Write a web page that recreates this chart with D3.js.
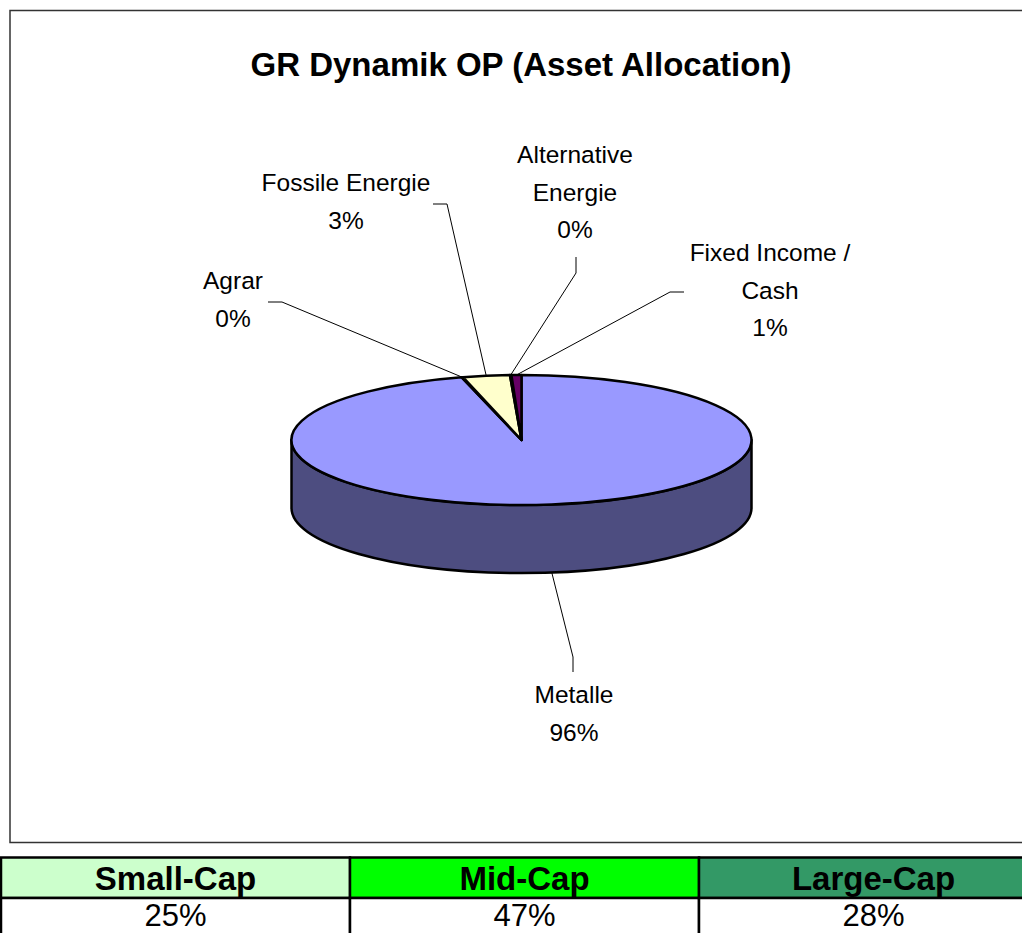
<!DOCTYPE html>
<html>
<head>
<meta charset="utf-8">
<script src="https://cdn.jsdelivr.net/npm/d3@7"></script>
<style>
  body { margin: 0; background: #fff; }
  svg { display: block; font-family: "Liberation Sans", Arial, sans-serif; }
</style>
</head>
<body>
<svg id="svg1" width="1022" height="933"></svg>
<script>
// slice data, clockwise from 12 o'clock
var categories = ["Metalle", "Agrar", "Fossile Energie", "Alternative Energie", "Fixed Income / Cash"];
var shares = [95.8, 0.1, 3.3, 0.1, 0.7];
var colors = ["#9999FF", "#993366", "#FFFFCC", "#CCFFFF", "#660066"];

// cap table under the chart
var capLabels = ["Small-Cap", "Mid-Cap", "Large-Cap"];
var capValues = [25, 47, 28];
var capColors = ["#CCFFCC", "#00FF00", "#339966"];

// label layout: text lines, centre x, first baseline, leader elbow and end
var labelLayout = [
  {lines: ["Metalle"], x: 574, y: 703, elbow: [573, 657], end: [573, 672]},
  {lines: ["Agrar"], x: 233, y: 289, elbow: [282, 302], end: [268, 302]},
  {lines: ["Fossile Energie"], x: 346, y: 191, elbow: [447, 204], end: [433, 204]},
  {lines: ["Alternative", "Energie"], x: 575, y: 163, elbow: [576, 273], end: [576, 257]},
  {lines: ["Fixed Income /", "Cash"], x: 770, y: 261, elbow: [670, 292], end: [684, 292]}
];

var svg1 = d3.select("#svg1");

// chart frame
svg1.append("rect")
    .attr("x", 10).attr("y", 10.5)
    .attr("width", 1040).attr("height", 832)
    .attr("fill", "#fff")
    .attr("stroke", "#333")
    .attr("stroke-width", 1.5);

svg1.append("text")
    .attr("x", 521).attr("y", 76)
    .attr("text-anchor", "middle")
    .attr("font-weight", "bold")
    .attr("font-size", "33px")
    .text("GR Dynamik OP (Asset Allocation)");

// 3d pie geometry
var cx = 521.5, cy = 440, rx = 230, ry = 65, depth = 68;

function pt(a, dz) {
  return [cx + rx * Math.sin(a), cy - ry * Math.cos(a) + (dz || 0)];
}

var pie = d3.pie().sort(null).value(function(d) { return d; })
    .startAngle(0).endAngle(2 * Math.PI);
var arcs = pie(shares);

var g = svg1.append("g");

// side walls (front half only)
arcs.forEach(function(d, i) {
  var s0 = Math.max(d.startAngle, Math.PI / 2),
      s1 = Math.min(d.endAngle, 3 * Math.PI / 2);
  if (s1 <= s0) return;
  var p0 = pt(s0), p1 = pt(s1), q1 = pt(s1, depth), q0 = pt(s0, depth);
  var large = (s1 - s0) > Math.PI ? 1 : 0;
  var path = "M" + p0 + "A" + rx + "," + ry + " 0 " + large + " 1 " + p1 +
      "L" + q1 + "A" + rx + "," + ry + " 0 " + large + " 0 " + q0 + "Z";
  var c = d3.rgb(colors[i]);
  g.append("path")
      .attr("d", path)
      .attr("fill", d3.rgb(c.r * 0.5, c.g * 0.5, c.b * 0.5))
      .attr("stroke", "#000")
      .attr("stroke-width", 2.5)
      .attr("stroke-linejoin", "round");
});

// top faces
g.selectAll(".slice")
  .data(arcs)
  .enter().append("path")
    .attr("class", "slice")
    .attr("d", function(d) {
      var p0 = pt(d.startAngle), p1 = pt(d.endAngle);
      var large = (d.endAngle - d.startAngle) > Math.PI ? 1 : 0;
      return "M" + [cx, cy] + "L" + p0 + "A" + rx + "," + ry + " 0 " + large + " 1 " + p1 + "Z";
    })
    .attr("fill", function(d, i) { return colors[i]; })
    .attr("stroke", "#000")
    .attr("stroke-width", 2.5)
    .attr("stroke-linejoin", "round");

// leader lines and labels
arcs.forEach(function(d, i) {
  var mid = (d.startAngle + d.endAngle) / 2;
  var front = Math.cos(mid) < 0;
  var start = pt(mid, front ? depth : 0);
  var lay = labelLayout[i];
  svg1.append("polyline")
      .attr("points", [start, lay.elbow, lay.end].join(" "))
      .attr("fill", "none")
      .attr("stroke", "#000")
      .attr("stroke-width", 1);
  var lines = lay.lines.concat([Math.round(shares[i]) + "%"]);
  var t = svg1.append("text")
      .attr("text-anchor", "middle")
      .attr("font-size", "24.5px");
  lines.forEach(function(s, k) {
    t.append("tspan")
        .attr("x", lay.x)
        .attr("y", lay.y + k * 37.5)
        .text(s);
  });
});

// cap table
var x = d3.scaleBand().domain(capLabels).range([1, 1048]);
var tableTop = 857.5, rowH = 40.5;

var cols = svg1.append("g").selectAll("g")
  .data(capLabels)
  .enter().append("g");

cols.append("rect")
    .attr("x", function(d) { return x(d); })
    .attr("y", tableTop)
    .attr("width", x.bandwidth())
    .attr("height", rowH)
    .attr("fill", function(d, i) { return capColors[i]; })
    .attr("stroke", "#000")
    .attr("stroke-width", 2.5);

cols.append("rect")
    .attr("x", function(d) { return x(d); })
    .attr("y", tableTop + rowH)
    .attr("width", x.bandwidth())
    .attr("height", rowH)
    .attr("fill", "#fff")
    .attr("stroke", "#000")
    .attr("stroke-width", 2.5);

cols.append("text")
    .attr("x", function(d) { return x(d) + x.bandwidth() / 2; })
    .attr("y", 890)
    .attr("text-anchor", "middle")
    .attr("font-weight", "bold")
    .attr("font-size", "33px")
    .text(function(d) { return d; });

cols.append("text")
    .attr("x", function(d) { return x(d) + x.bandwidth() / 2; })
    .attr("y", 926)
    .attr("text-anchor", "middle")
    .attr("font-size", "31px")
    .text(function(d, i) { return capValues[i] + "%"; });
</script>
</body>
</html>
